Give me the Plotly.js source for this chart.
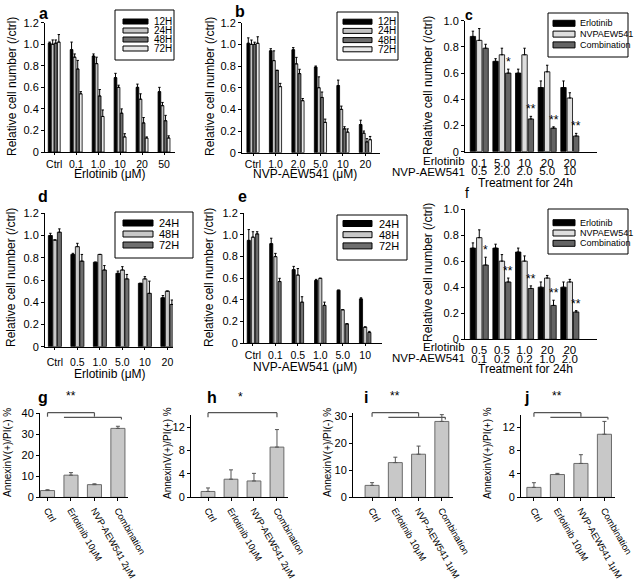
<!DOCTYPE html>
<html>
<head>
<meta charset="utf-8">
<script src="https://cdn.plot.ly/plotly-3.0.1.min.js"></script>
<style>body{margin:0;background:#fff}</style>
</head>
<body>
<div id="fig" style="width:640px;height:584px"></div>
<script>
// ---- data ----
const relTicks = ['0', '0.2', '0.4', '0.6', '0.8', '1.0', '1.2'];
const relTicks1 = ['0', '0.2', '0.4', '0.6', '0.8', '1.0'];

// a: Erlotinib, 12-72 h
const catsA = ['Ctrl', '0.1', '1.0', '10', '20', '50'];
const hours4 = ['12H', '24H', '48H', '72H'];
const a12 = [1.01, 0.95, 0.89, 0.69, 0.60, 0.56];
const a24 = [1.00, 0.88, 0.82, 0.60, 0.49, 0.43];
const a48 = [1.01, 0.77, 0.52, 0.36, 0.27, 0.29];
const a72 = [1.02, 0.54, 0.33, 0.14, 0.13, 0.13];
const a12err = [0.01, 0.07, 0.02, 0.04, 0.03, 0.04];
const a24err = [0.04, 0.03, 0.06, 0.02, 0.05, 0.03];
const a48err = [0.03, 0.08, 0.06, 0.04, 0.05, 0.05];
const a72err = [0.07, 0.02, 0.06, 0.03, 0.01, 0.02];

// b: NVP-AEW541, 12-72 h
const catsB = ['Ctrl', '1.0', '2.0', '5.0', '10', '20'];
const b12 = [1.01, 0.94, 0.95, 0.79, 0.62, 0.26];
const b24 = [1.00, 0.85, 0.82, 0.60, 0.40, 0.18];
const b48 = [1.00, 0.76, 0.73, 0.51, 0.22, 0.10];
const b72 = [1.01, 0.61, 0.48, 0.28, 0.19, 0.12];
const b12err = [0.05, 0.02, 0.02, 0.01, 0.05, 0.04];
const b24err = [0.04, 0.09, 0.06, 0.10, 0.03, 0.02];
const b48err = [0.02, 0.00, 0.04, 0.05, 0.02, 0.03];
const b72err = [0.06, 0.03, 0.02, 0.03, 0.03, 0.03];

// c: combinations, 24 h
const treat3 = ['Erlotinib', 'NVPAEW541', 'Combination'];
const catsCerl = ['0.1', '5.0', '10', '20', '20'];
const catsCnvp = ['0.5', '2.0', '2.0', '5.0', '10'];
const cErl = [0.88, 0.69, 0.60, 0.49, 0.49];
const cNvp = [0.85, 0.74, 0.74, 0.61, 0.41];
const cComb = [0.79, 0.60, 0.25, 0.18, 0.12];
const cErlErr = [0.04, 0.02, 0.03, 0.05, 0.05];
const cNvpErr = [0.09, 0.05, 0.05, 0.05, 0.04];
const cCombErr = [0.03, 0.03, 0.02, 0.01, 0.02];
const sigC = ['', '*', '**', '**', '**'];

// d: Erlotinib, 24-72 h
const hours3 = ['24H', '48H', '72H'];
const catsD = ['Ctrl', '0.5', '1.0', '5.0', '10', '20'];
const d24 = [1.00, 0.83, 0.76, 0.66, 0.57, 0.44];
const d48 = [0.96, 0.90, 0.83, 0.69, 0.61, 0.50];
const d72 = [1.03, 0.77, 0.69, 0.61, 0.48, 0.38];
const d24err = [0.02, 0.01, 0.00, 0.02, 0.00, 0.02];
const d48err = [0.00, 0.03, 0.00, 0.03, 0.02, 0.00];
const d72err = [0.03, 0.06, 0.04, 0.04, 0.11, 0.04];

// e: NVP-AEW541, 24-72 h
const catsE = ['Ctrl', '0.1', '0.5', '1.0', '5.0', '10'];
const e24 = [0.95, 0.92, 0.68, 0.58, 0.49, 0.41];
const e48 = [0.98, 0.80, 0.63, 0.60, 0.31, 0.15];
const e72 = [1.01, 0.57, 0.38, 0.35, 0.18, 0.10];
const e24err = [0.10, 0.05, 0.03, 0.01, 0.00, 0.01];
const e48err = [0.05, 0.03, 0.06, 0.00, 0.00, 0.00];
const e72err = [0.02, 0.03, 0.05, 0.03, 0.00, 0.01];

// f: combinations, 24 h
const catsFerl = ['0.5', '0.5', '1.0', '20', '20'];
const catsFnvp = ['0.1', '0.2', '0.2', '1.0', '2.0'];
const fErl = [0.70, 0.70, 0.67, 0.40, 0.40];
const fNvp = [0.78, 0.60, 0.60, 0.47, 0.44];
const fComb = [0.57, 0.44, 0.39, 0.26, 0.21];
const fErlErr = [0.04, 0.03, 0.03, 0.04, 0.04];
const fNvpErr = [0.06, 0.05, 0.04, 0.02, 0.02];
const fCombErr = [0.06, 0.03, 0.02, 0.04, 0.01];
const sigF = ['*', '**', '**', '**', '**'];

// g-j: apoptosis
const groups2 = ['Ctrl', 'Erlotinib 10μM', 'NVP-AEW541 2μM', 'Combination'];
const groups1 = ['Ctrl', 'Erlotinib 10μM', 'NVP-AEW541 1μM', 'Combination'];
const gVals = [3.2, 10.5, 6.0, 32.7];
const gErr = [0.4, 1.2, 0.4, 1.0];
const hVals = [1.0, 3.1, 2.8, 8.6];
const hErr = [0.6, 1.6, 1.3, 3.0];
const iVals = [4.4, 12.8, 15.9, 28.0];
const iErr = [1.0, 2.0, 3.0, 2.5];
const jVals = [1.7, 3.9, 5.8, 10.8];
const jErr = [0.8, 0.2, 1.5, 2.2];

// ---- layout helpers ----
const W = 640, H = 584;
const px = x => x / W, py = y => 1 - y / H;
const sfx = id => id === 1 ? '' : String(id);
const FONT = '"Liberation Sans", Arial, sans-serif';

const traces = [], shapes = [], annotations = [];
const layout = {
    width: W, height: H, margin: {l: 0, r: 0, t: 0, b: 0},
    showlegend: false, barmode: 'overlay',
    paper_bgcolor: '#fff', plot_bgcolor: 'rgba(0,0,0,0)',
    font: {family: FONT, size: 11, color: '#000'}
};

function axes(id, xPix, yPix, xr, yr, yticks, cats, xo, yo) {
    const idx = cats.map((c, i) => i);
    layout['xaxis' + sfx(id)] = Object.assign({
        domain: [px(xPix[0]), px(xPix[1])], anchor: 'y' + sfx(id), range: xr,
        tickvals: idx, ticktext: cats, showline: true, linecolor: '#000', linewidth: 1,
        ticks: 'outside', ticklen: 2, tickcolor: '#000', showgrid: false, zeroline: false,
        tickfont: {size: 10.5}
    }, xo || {});
    layout['yaxis' + sfx(id)] = Object.assign({
        domain: [py(yPix[1]), py(yPix[0])], anchor: 'x' + sfx(id), range: yr,
        tickvals: yticks.map(Number), ticktext: yticks, showline: true, linecolor: '#000',
        linewidth: 1, ticks: 'outside', ticklen: 3, tickcolor: '#000', showgrid: false,
        zeroline: false, tickfont: {size: 11}
    }, yo || {});
}

function groupBars(id, cats, series, errs, colors, groupW, gap) {
    const slot = groupW / series.length;
    series.forEach((ys, k) => {
        traces.push({
            type: 'bar', x: cats.map((c, i) => i), y: ys,
            xaxis: 'x' + sfx(id), yaxis: 'y' + sfx(id),
            width: slot * (1 - gap), offset: -groupW / 2 + k * slot + slot * gap / 2,
            marker: {color: colors[k], line: {color: '#000', width: 0.8}},
            error_y: {type: 'data', array: errs[k], arrayminus: errs[k].map(() => 0),
                symmetric: false, color: '#000', thickness: 1, width: 1.2},
            hoverinfo: 'skip'
        });
    });
}

function singleBars(id, cats, ys, err) {
    traces.push({
        type: 'bar', x: cats.map((c, i) => i), y: ys,
        xaxis: 'x' + sfx(id), yaxis: 'y' + sfx(id), width: 0.6, offset: -0.3,
        marker: {color: '#c8c8c8', line: {color: '#6a6a6a', width: 1}},
        error_y: {type: 'data', array: err, arrayminus: err.map(() => 0), symmetric: false,
            color: '#555', thickness: 1, width: 2},
        hoverinfo: 'skip'
    });
}

function note(text, x, y, o) {
    annotations.push(Object.assign({
        text: text, x: px(x), y: py(y), xref: 'paper', yref: 'paper', showarrow: false,
        xanchor: 'center', yanchor: 'middle', font: {size: 12}
    }, o || {}));
}

function legendBox(box, names, colors, o) {
    shapes.push({type: 'rect', xref: 'paper', yref: 'paper', x0: px(box[0]), x1: px(box[2]),
        y0: py(box[1]), y1: py(box[3]), line: {color: '#000', width: 1}});
    names.forEach((n, k) => {
        const yc = o.row0 + k * o.step;
        shapes.push({type: 'rect', xref: 'paper', yref: 'paper', x0: px(o.sx0), x1: px(o.sx1),
            y0: py(yc + o.sh / 2), y1: py(yc - o.sh / 2), fillcolor: colors[k],
            line: {color: '#000', width: 1}});
        note(n, o.tx, yc, {xanchor: 'left', font: {size: o.size}});
    });
}

function line(id, x0, y0, x1, y1) {
    shapes.push({type: 'line', xref: 'x' + sfx(id), yref: 'paper', x0: x0, x1: x1,
        y0: py(y0), y1: py(y1), line: {color: '#555', width: 1.2}});
}

function stars(id, cats, comb, err, sig, groupW, n) {
    const slot = groupW / n;
    cats.forEach((c, i) => {
        if (!sig[i]) return;
        annotations.push({text: sig[i], xref: 'x' + sfx(id), yref: 'y' + sfx(id),
            x: i + groupW / 2 - slot / 2, y: comb[i] + err[i] - 0.015, yanchor: 'bottom',
            showarrow: false, font: {size: 12}});
    });
}

// ---- panel a ----
const col4 = ['#000000', '#c4c4c4', '#6e6e6e', '#e8e8e8'];
axes(1, [45, 175], [22.7, 152], [-0.42, 5.5], [0, 1.2], relTicks, catsA);
groupBars(1, catsA, [a12, a24, a48, a72], [a12err, a24err, a48err, a72err], col4, 0.56, 0.12);
legendBox([115, 10, 174, 60], hours4, col4, {row0: 21.5, step: 9, sx0: 123, sx1: 148, sh: 5, tx: 152, size: 10});

// ---- panel b ----
axes(2, [242, 380], [22.7, 152.7], [-0.49, 5.65], [0, 1.2], relTicks, catsB);
groupBars(2, catsB, [b12, b24, b48, b72], [b12err, b24err, b48err, b72err], col4, 0.56, 0.12);
legendBox([337, 12, 398, 60], hours4, col4, {row0: 21.7, step: 9.2, sx0: 343, sx1: 372, sh: 5, tx: 376, size: 10});

// ---- panel c ----
const col3c = ['#000000', '#dedede', '#646464'];
axes(3, [465, 597], [20.7, 151.7], [-0.63, 5.2], [0, 1.0], relTicks1, catsCerl,
    {ticks: '', tickfont: {size: 11.5}});
layout.xaxis11 = {overlaying: 'x3', anchor: 'y3', range: [-0.63, 5.2], tickvals: catsCnvp.map((c, i) => i),
    ticktext: catsCnvp, showline: false, ticks: '', showgrid: false, zeroline: false,
    tickfont: {size: 11.5}, ticklabelstandoff: 11};
traces.push({type: 'scatter', x: catsCnvp.map((c, i) => i), y: catsCnvp.map(() => null),
    xaxis: 'x11', yaxis: 'y3', hoverinfo: 'skip'});
groupBars(3, catsCerl, [cErl, cNvp, cComb], [cErlErr, cNvpErr, cCombErr], col3c, 0.84, 0.15);
stars(3, catsCerl, cComb, cCombErr, sigC, 0.84, 3);
legendBox([548, 13, 628, 57], treat3, col3c, {row0: 23.3, step: 10.8, sx0: 553, sx1: 575, sh: 6, tx: 578, size: 9});

// ---- panel d ----
const col3 = ['#000000', '#c8c8c8', '#6e6e6e'];
axes(4, [45, 173], [213.3, 346.7], [-0.44, 5.25], [0, 1.2], relTicks, catsD, {ticklabelstandoff: 4});
groupBars(4, catsD, [d24, d48, d72], [d24err, d48err, d72err], col3, 0.6, 0.1);
legendBox([115, 212, 193, 258], hours3, col3, {row0: 223, step: 11, sx0: 123, sx1: 153, sh: 6, tx: 157, size: 11});

// ---- panel e ----
axes(5, [244, 382], [213.3, 343.3], [-0.4, 5.75], [0, 1.2], relTicks, catsE);
groupBars(5, catsE, [e24, e48, e72], [e24err, e48err, e72err], col3, 0.56, 0.25);
legendBox([337, 215, 407, 260], hours3, col3, {row0: 223.5, step: 11.2, sx0: 343, sx1: 372, sh: 6, tx: 377, size: 11});

// ---- panel f ----
axes(6, [465, 597], [209, 339.3], [-0.63, 5.2], [0, 1.0], relTicks1, catsFerl,
    {ticks: '', tickfont: {size: 11.5}});
layout.xaxis12 = {overlaying: 'x6', anchor: 'y6', range: [-0.63, 5.2], tickvals: catsFnvp.map((c, i) => i),
    ticktext: catsFnvp, showline: false, ticks: '', showgrid: false, zeroline: false,
    tickfont: {size: 11.5}, ticklabelstandoff: 11};
traces.push({type: 'scatter', x: catsFnvp.map((c, i) => i), y: catsFnvp.map(() => null),
    xaxis: 'x12', yaxis: 'y6', hoverinfo: 'skip'});
groupBars(6, catsFerl, [fErl, fNvp, fComb], [fErlErr, fNvpErr, fCombErr], col3c, 0.84, 0.15);
stars(6, catsFerl, fComb, fCombErr, sigF, 0.84, 3);
legendBox([548, 209, 628, 254], treat3, col3c, {row0: 222.7, step: 10.3, sx0: 553, sx1: 575, sh: 6, tx: 578, size: 9});

// ---- panels g-j ----
const rot = {tickangle: 60, ticklen: 3, tickfont: {size: 9.3}};
axes(7, [40, 128], [413, 497.3], [-0.32, 3.43], [0, 40], ['0', '10', '20', '30', '40'], groups2, rot);
singleBars(7, groups2, gVals, gErr);
axes(8, [191, 288], [415, 497.3], [-0.74, 3.48], [0, 14.1], ['0', '4', '8', '12'], groups2, rot);
singleBars(8, groups2, hVals, hErr);
axes(9, [353, 453], [413.3, 497.3], [-0.82, 3.48], [0, 31], ['0', '10', '20', '30'], groups1, rot);
singleBars(9, groups1, iVals, iErr);
axes(10, [521, 615], [415, 497.3], [-0.55, 3.45], [0, 14.1], ['0', '4', '8', '12'], groups1, rot);
singleBars(10, groups1, jVals, jErr);

// significance brackets
[7, 9, 10].forEach(id => {
    line(id, 0, 412.7, 2, 412.7); line(id, 0, 412.7, 0, 416.7); line(id, 2, 412.7, 2, 416.7);
    line(id, 0.7, 417.3, 3.15, 417.3); line(id, 3.15, 417.3, 3.15, 419.5);
    annotations.push({text: '**', xref: 'x' + id, yref: 'paper', x: 1, y: py(405), showarrow: false, font: {size: 12}});
});
line(8, 0, 412.7, 3, 412.7); line(8, 0, 412.7, 0, 417.3); line(8, 3, 412.7, 3, 417.3);
annotations.push({text: '*', xref: 'x8', yref: 'paper', x: 1.4, y: py(406), showarrow: false, font: {size: 12}});

// ---- titles and letters ----
const relTitle = 'Relative cell number (/ctrl)';
[[12, 87], [210, 87], [428, 86], [11, 278], [209, 278], [428, 273]].forEach(p =>
    note(relTitle, p[0], p[1], {textangle: -90}));
const sm = {textangle: -90, font: {size: 10}};
note('AnnexinV(+)/PI(-) %', 7, 453, sm);
note('AnnexinV(+)/PI(+) %', 167, 453, sm);
note('AnnexinV(+)/PI(-) %', 327, 453, sm);
note('AnnexinV(+)/PI(+) %', 487, 453, sm);

note('Erlotinib (μM)', 110, 174);
note('NVP-AEW541 (μM)', 305, 174);
note('Treatment for 24h', 525, 182.5);
note('Erlotinib (μM)', 110, 374);
note('NVP-AEW541 (μM)', 305, 367);
note('Treatment for 24h', 525, 368.5);
const rowF = {xanchor: 'right', font: {size: 11.5}};
note('Erlotinib', 467, 161, rowF);
note('NVP-AEW541', 467, 172.3, rowF);
note('Erlotinib', 467, 347, rowF);
note('NVP-AEW541', 467, 358.3, rowF);

const bold = s => ({font: {size: s, family: FONT, weight: 'bold'}});
[['a', 43, 13], ['b', 240, 12], ['d', 43, 196], ['e', 242, 196],
 ['g', 43, 397], ['h', 212, 397], ['i', 366, 397], ['j', 526, 397]].forEach(l =>
    note('<b>' + l[0] + '</b>', l[1], l[2], bold(16)));
note('<b>c</b>', 469, 15, bold(14));
note('f', 467, 193, {font: {size: 14}});

layout.shapes = shapes;
layout.annotations = annotations;
Plotly.newPlot('fig', traces, layout, {staticPlot: true});
</script>
</body>
</html>
